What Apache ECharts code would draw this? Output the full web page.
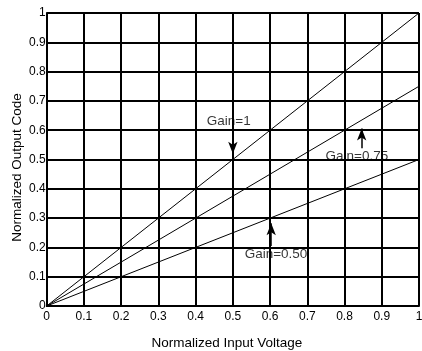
<!DOCTYPE html>
<html>
<head>
<meta charset="utf-8">
<script src="https://cdn.jsdelivr.net/npm/echarts@6/dist/echarts.min.js"></script>
<style>
html,body{margin:0;padding:0;background:#fff;}
#c{width:422px;height:351px;}
</style>
</head>
<body>
<div id="c"></div>
<script>
var xTicks = [0, 0.1, 0.2, 0.3, 0.4, 0.5, 0.6, 0.7, 0.8, 0.9, 1];
var yTicks = [0, 0.1, 0.2, 0.3, 0.4, 0.5, 0.6, 0.7, 0.8, 0.9, 1];
var seriesNames = ['Gain=1', 'Gain=0.75', 'Gain=0.50'];
var inputX = [0, 1];
var gain1 = [0, 1];
var gain075 = [0, 0.75];
var gain050 = [0, 0.5];

var annoLabels = ['Gain=1', 'Gain=0.75', 'Gain=0.50'];
var annoX = [0.489, 0.833, 0.616];
var annoY = [0.632, 0.51, 0.176];
var arrowX = [0.5, 0.846, 0.603];
var arrowFromY = [0.61, 0.538, 0.205];
var arrowToY = [0.52, 0.606, 0.282];

var FONT = '"Liberation Sans", Arial, Helvetica, sans-serif';

function pairs(xs, ys) { return xs.map(function (x, i) { return [x, ys[i]]; }); }

var chart = echarts.init(document.getElementById('c'), null, { renderer: 'canvas' });

var lineSeries = [gain1, gain075, gain050].map(function (vals, i) {
  return {
    name: seriesNames[i],
    type: 'line',
    data: pairs(inputX, vals),
    symbol: 'none',
    lineStyle: { color: '#000', width: 1 },
    silent: true,
    z: 3
  };
});

var arrowData = arrowX.map(function (x, i) {
  return [{ coord: [x, arrowFromY[i]] }, { coord: [x, arrowToY[i]] }];
});

lineSeries.push({
  type: 'scatter',
  data: pairs(annoX, annoY).map(function (p, i) { return { value: p, name: annoLabels[i] }; }),
  symbolSize: 0,
  silent: true,
  label: {
    show: true,
    position: 'inside',
    formatter: function (p) { return p.name; },
    color: '#000',
    fontFamily: FONT,
    fontSize: 13.5
  },
  markLine: {
    silent: true,
    symbol: ['none', 'arrow'],
    symbolSize: [7, 12],
    lineStyle: { color: '#000', width: 1.5, type: 'solid' },
    label: { show: false },
    data: arrowData
  },
  z: 4
});

chart.setOption({
  animation: false,
  backgroundColor: '#fff',
  grid: { left: 46.7, right: 3, top: 13, bottom: 45, containLabel: false, outerBoundsMode: 'none' },
  xAxis: {
    type: 'value',
    min: xTicks[0],
    max: xTicks[xTicks.length - 1],
    interval: 0.1,
    name: 'Normalized Input Voltage',
    nameLocation: 'middle',
    nameGap: 30,
    nameMoveOverlap: false,
    nameTextStyle: { color: '#000', fontFamily: FONT, fontSize: 13.5, padding: [0, 12, 0, 0] },
    axisLine: { show: true, lineStyle: { color: '#000', width: 2 } },
    axisTick: { show: false },
    splitLine: { show: true, lineStyle: { color: '#000', width: 2 } },
    axisLabel: {
      color: '#000', fontFamily: FONT, fontSize: 12, margin: 5,
      formatter: function (v) { return String(Math.round(v * 10) / 10); }
    }
  },
  yAxis: {
    type: 'value',
    min: yTicks[0],
    max: yTicks[yTicks.length - 1],
    interval: 0.1,
    name: 'Normalized Output Code',
    nameLocation: 'middle',
    nameGap: 22,
    nameMoveOverlap: false,
    nameTextStyle: { color: '#000', fontFamily: FONT, fontSize: 13.5, padding: [0, 16, 0, 0] },
    axisLine: { show: true, lineStyle: { color: '#000', width: 2 } },
    axisTick: { show: false },
    splitLine: { show: true, lineStyle: { color: '#000', width: 2 } },
    axisLabel: {
      color: '#000', fontFamily: FONT, fontSize: 12, margin: 1,
      formatter: function (v) { return String(Math.round(v * 10) / 10); }
    }
  },
  series: lineSeries
});
</script>
</body>
</html>
